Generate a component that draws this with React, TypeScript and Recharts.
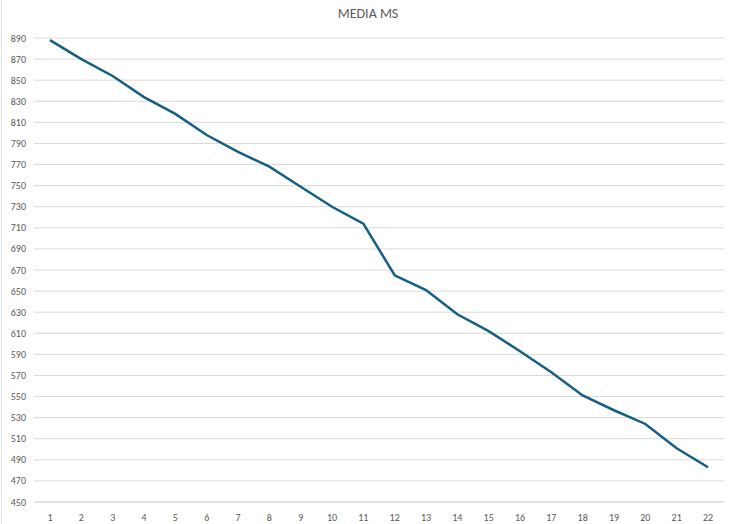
import React from "react";
import { LineChart, Line, XAxis, YAxis, CartesianGrid } from "recharts";

const categories = ["1","2","3","4","5","6","7","8","9","10","11","12","13","14","15","16","17","18","19","20","21","22"];
const mediaMs = [888, 870, 854, 834, 818, 798, 782, 768, 749, 730, 714, 665, 651, 628, 612, 593, 573, 551, 537, 524, 501, 483];
const yTicks = [450, 470, 490, 510, 530, 550, 570, 590, 610, 630, 650, 670, 690, 710, 730, 750, 770, 790, 810, 830, 850, 870, 890];

const data = categories.map((c, i) => ({ name: c, value: mediaMs[i] }));

export default function App() {
  const font = "Calibri, Carlito, 'Liberation Sans', Arial, sans-serif";
  return (
    <div style={{ position: "absolute", left: 0, top: 0, width: 736, height: 524, background: "#fff", fontFamily: font }}>
      <div style={{ position: "absolute", left: 1, top: 0, width: 1, height: 524, background: "#e0e0e0" }} />
      <div style={{ position: "absolute", left: 0, top: 5, width: 736, textAlign: "center", fontSize: 14, color: "#595959", fontFamily: font }}>
        MEDIA MS
      </div>
      <LineChart width={736} height={524} data={data} margin={{ top: 38, right: 12, bottom: 2, left: 0 }}>
        <CartesianGrid horizontal={true} vertical={false} stroke="#d9d9d9" strokeWidth={1} />
        <XAxis
          dataKey="name"
          axisLine={{ stroke: "#d9d9d9" }}
          tickLine={false}
          height={20}
          tickMargin={6}
          interval={0}
          padding={{ left: 16, right: 16 }}
          tick={{ fontSize: 10, fill: "#595959", fontFamily: font }}
        />
        <YAxis
          domain={[450, 890]}
          ticks={yTicks}
          interval={0}
          axisLine={false}
          tickLine={false}
          width={34}
          tick={{ fontSize: 10, fill: "#595959", fontFamily: font }}
        />
        <Line
          type="linear"
          dataKey="value"
          stroke="#156082"
          strokeWidth={2.5}
          dot={false}
          isAnimationActive={false}
        />
      </LineChart>
    </div>
  );
}
